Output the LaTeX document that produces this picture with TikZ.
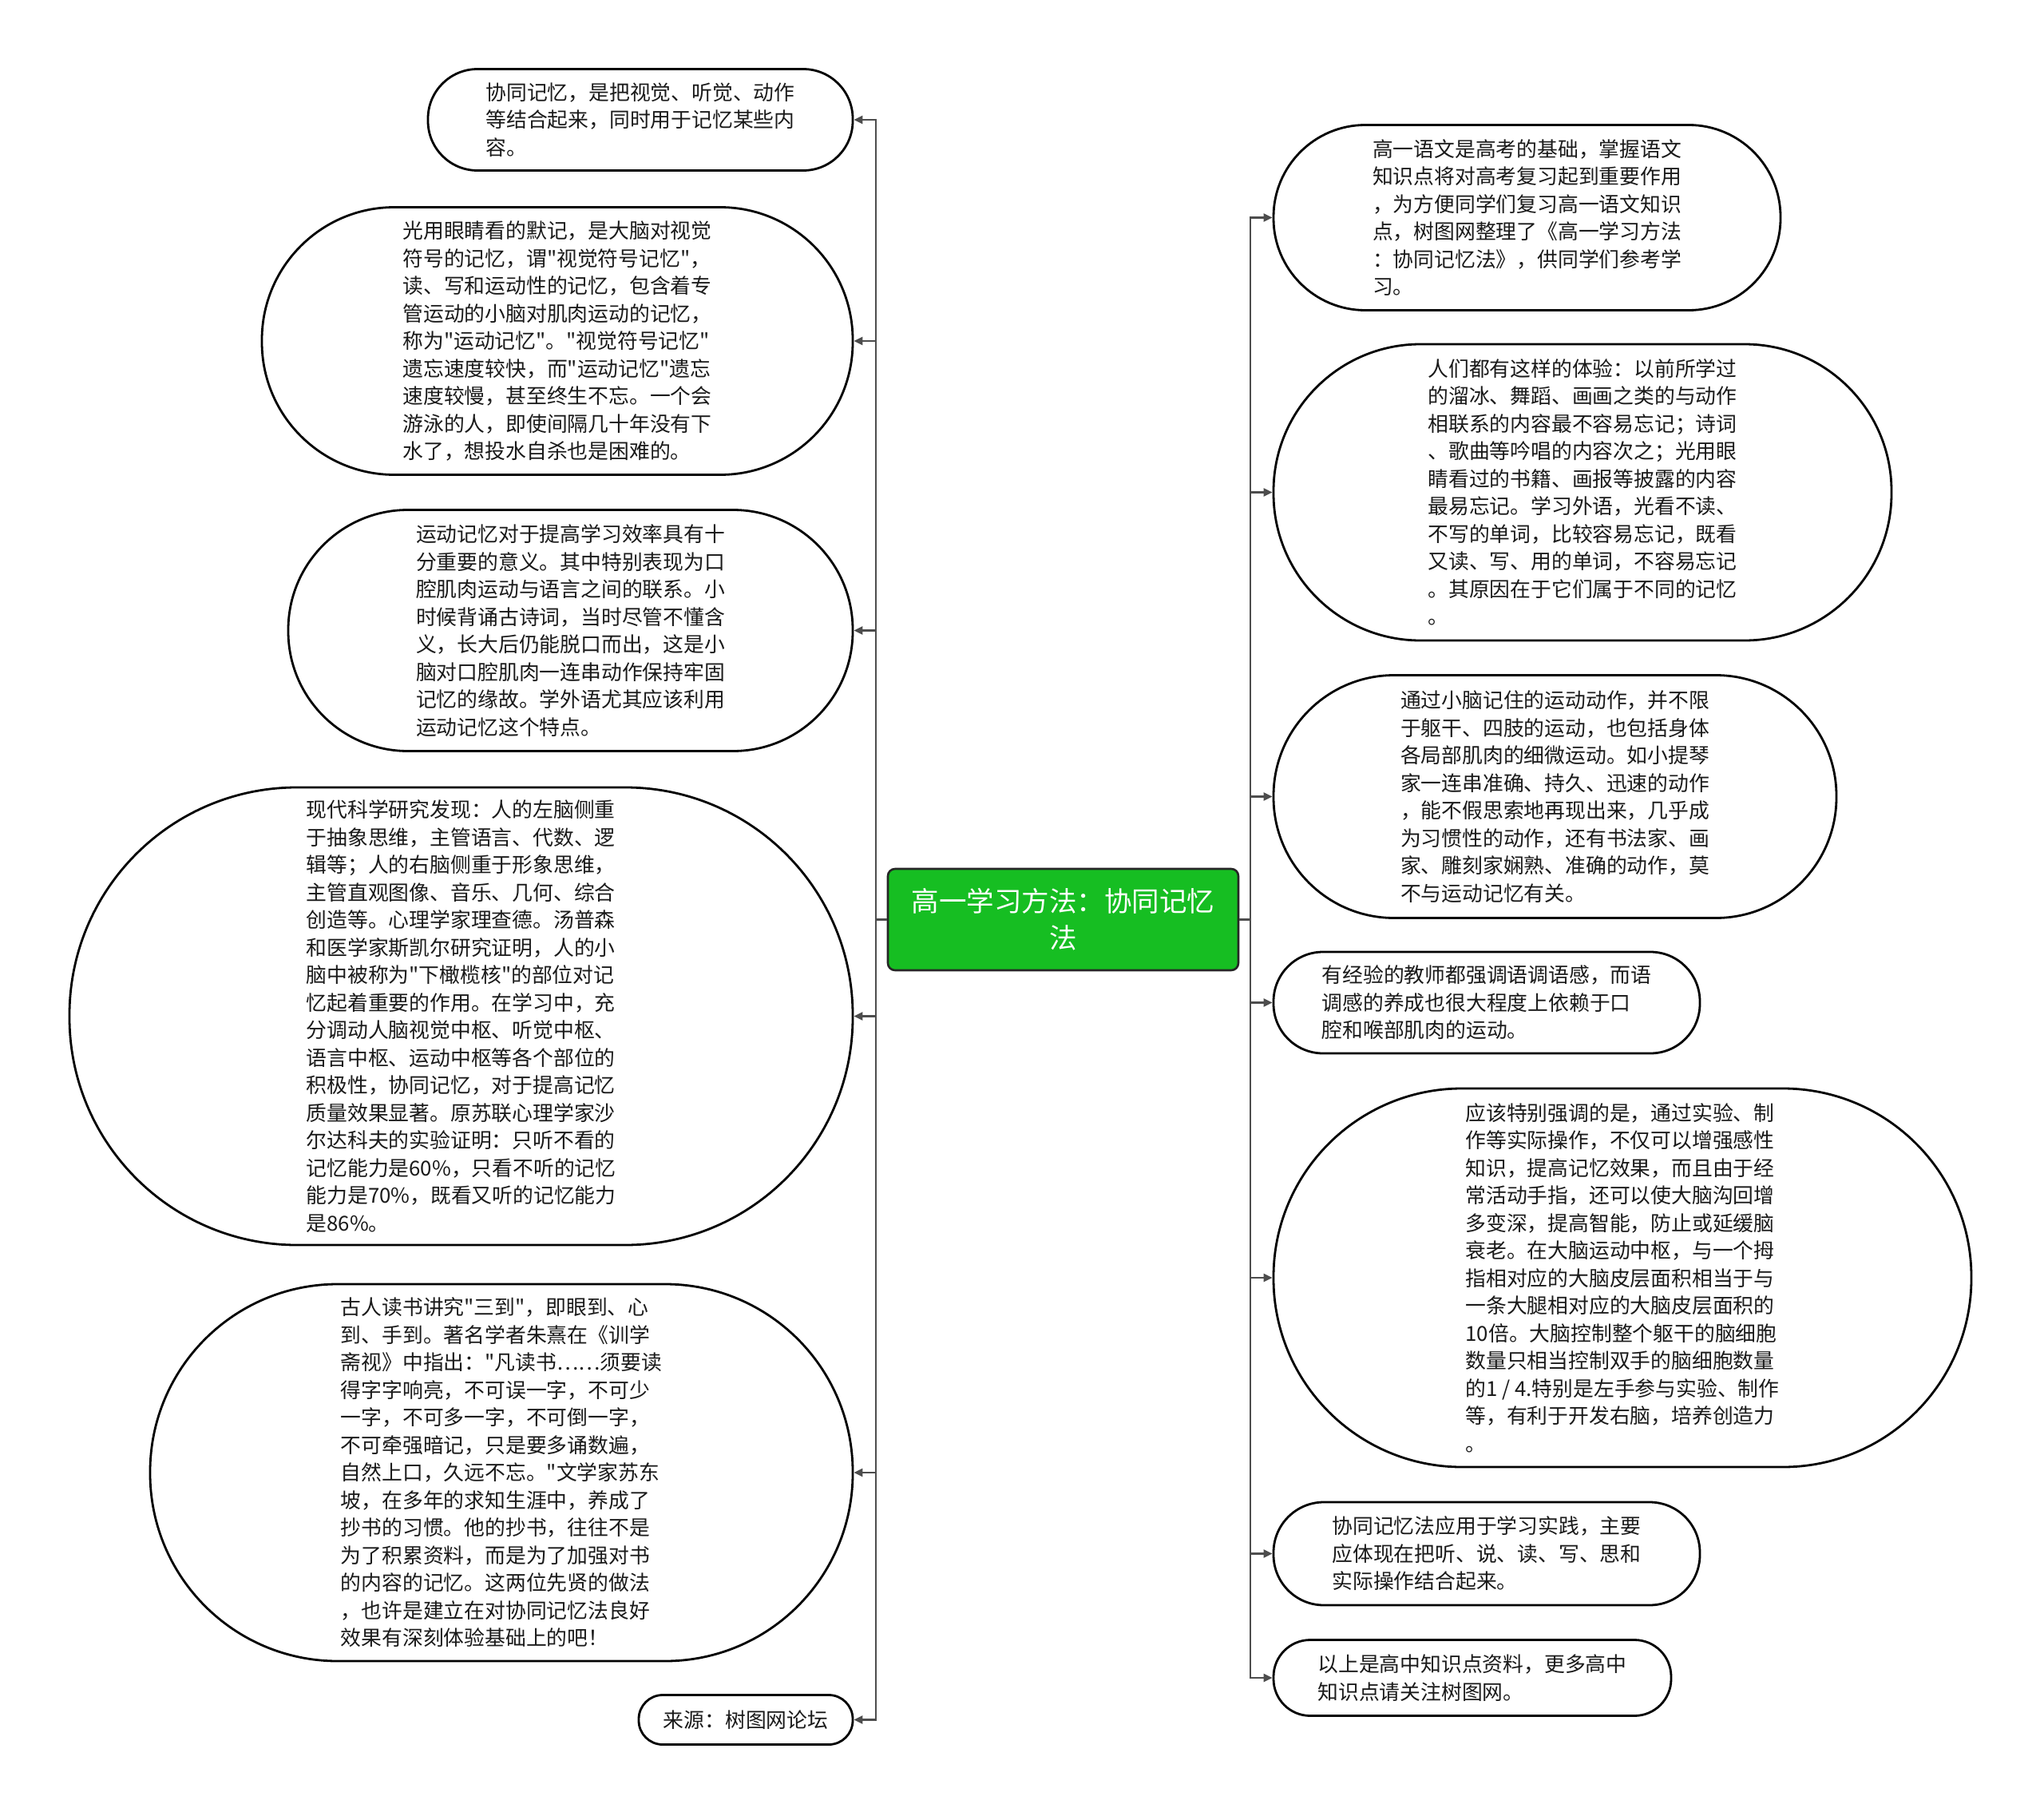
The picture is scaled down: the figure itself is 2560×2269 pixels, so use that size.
\documentclass[tikz,border=0pt]{standalone}
\usepackage{fontspec}
\setmainfont{Noto Sans CJK SC}[Ligatures=TeXOff]
\usetikzlibrary{arrows.meta}
\definecolor{txt}{HTML}{1A1A1A}
\definecolor{lnk}{HTML}{4D4D4D}
\definecolor{rootg}{HTML}{16BE22}
\begin{document}
\begin{tikzpicture}[x=1pt,y=-1pt,
  leaf/.style={draw=black, line width=2.8pt, fill=white, text=txt, align=left, inner sep=0pt,
    font=\fontsize{25.8pt}{34.5pt}\selectfont},
  root/.style={draw=black!85, line width=2.6pt, fill=rootg, text=white, align=center,
    rounded corners=9pt, inner sep=0pt, minimum width=439pt, minimum height=127pt,
    font=\fontsize{34.5pt}{46pt}\selectfont},
  link/.style={draw=lnk, line width=2.4pt},
  conn/.style={draw=lnk, line width=2.4pt, -{Triangle[length=11pt,width=10pt]}},
]
\fill[white] (0,0) rectangle (2560,2269);
\useasboundingbox (0,0) rectangle (2560,2269);

% root
\node[root] (C) at (1331.5,1151.5) {高一学习方法：协同记忆\\法};

% left children
\node[leaf, minimum width=532pt, minimum height=127pt, rounded corners=62pt] (L1) at (802,150)
 {协同记忆，是把视觉、听觉、动作\\等结合起来，同时用于记忆某些内\\容。};
\node[leaf, minimum width=740pt, minimum height=335pt, rounded corners=166pt] (L2) at (698,427)
 {光用眼睛看的默记，是大脑对视觉\\符号的记忆，谓"视觉符号记忆"，\\读、写和运动性的记忆，包含着专\\管运动的小脑对肌肉运动的记忆，\\称为"运动记忆"。"视觉符号记忆"\\遗忘速度较快，而"运动记忆"遗忘\\速度较慢，甚至终生不忘。一个会\\游泳的人，即使间隔几十年没有下\\水了，想投水自杀也是困难的。};
\node[leaf, minimum width=707pt, minimum height=302pt, rounded corners=150pt] (L3) at (714.5,789.5)
 {运动记忆对于提高学习效率具有十\\分重要的意义。其中特别表现为口\\腔肌肉运动与语言之间的联系。小\\时候背诵古诗词，当时尽管不懂含\\义，长大后仍能脱口而出，这是小\\脑对口腔肌肉一连串动作保持牢固\\记忆的缘故。学外语尤其应该利用\\运动记忆这个特点。};
\node[leaf, minimum width=981pt, minimum height=573pt, rounded corners=285pt] (L4) at (577.5,1272.5)
 {现代科学研究发现：人的左脑侧重\\于抽象思维，主管语言、代数、逻\\辑等；人的右脑侧重于形象思维，\\主管直观图像、音乐、几何、综合\\创造等。心理学家理查德。汤普森\\和医学家斯凯尔研究证明，人的小\\脑中被称为"下橄榄核"的部位对记\\忆起着重要的作用。在学习中，充\\分调动人脑视觉中枢、听觉中枢、\\语言中枢、运动中枢等各个部位的\\积极性，协同记忆，对于提高记忆\\质量效果显著。原苏联心理学家沙\\尔达科夫的实验证明：只听不看的\\记忆能力是60\%，只看不听的记忆\\能力是70\%，既看又听的记忆能力\\是86\%。};
\node[leaf, minimum width=880pt, minimum height=472pt, rounded corners=235pt] (L5) at (628,1844)
 {古人读书讲究"三到"，即眼到、心\\到、手到。著名学者朱熹在《训学\\斋视》中指出："凡读书……须要读\\得字字响亮，不可误一字，不可少\\一字，不可多一字，不可倒一字，\\不可牵强暗记，只是要多诵数遍，\\自然上口，久远不忘。"文学家苏东\\坡，在多年的求知生涯中，养成了\\抄书的习惯。他的抄书，往往不是\\为了积累资料，而是为了加强对书\\的内容的记忆。这两位先贤的做法\\，也许是建立在对协同记忆法良好\\效果有深刻体验基础上的吧！};
\node[leaf, minimum width=268pt, minimum height=62pt, rounded corners=30pt] (L6) at (934,2153.5)
 {来源：树图网论坛};

% right children
\node[leaf, minimum width=635pt, minimum height=232pt, rounded corners=115pt] (R1) at (1912.5,272.5)
 {高一语文是高考的基础，掌握语文\\知识点将对高考复习起到重要作用\\，为方便同学们复习高一语文知识\\点，树图网整理了《高一学习方法\\：协同记忆法》，供同学们参考学\\习。};
\node[leaf, minimum width=774pt, minimum height=371pt, rounded corners=184pt] (R2) at (1982,616.5)
 {人们都有这样的体验：以前所学过\\的溜冰、舞蹈、画画之类的与动作\\相联系的内容最不容易忘记；诗词\\、歌曲等吟唱的内容次之；光用眼\\睛看过的书籍、画报等披露的内容\\最易忘记。学习外语，光看不读、\\不写的单词，比较容易忘记，既看\\又读、写、用的单词，不容易忘记\\。其原因在于它们属于不同的记忆\\。};
\node[leaf, minimum width=705pt, minimum height=304pt, rounded corners=151pt] (R3) at (1947.5,997.5)
 {通过小脑记住的运动动作，并不限\\于躯干、四肢的运动，也包括身体\\各局部肌肉的细微运动。如小提琴\\家一连串准确、持久、迅速的动作\\，能不假思索地再现出来，几乎成\\为习惯性的动作，还有书法家、画\\家、雕刻家娴熟、准确的动作，莫\\不与运动记忆有关。};
\node[leaf, minimum width=534pt, minimum height=127pt, rounded corners=62pt] (R4) at (1862,1255.5)
 {有经验的教师都强调语调语感，而语\\调感的养成也很大程度上依赖于口\\腔和喉部肌肉的运动。};
\node[leaf, minimum width=874pt, minimum height=474pt, rounded corners=236pt] (R5) at (2032,1600)
 {应该特别强调的是，通过实验、制\\作等实际操作，不仅可以增强感性\\知识，提高记忆效果，而且由于经\\常活动手指，还可以使大脑沟回增\\多变深，提高智能，防止或延缓脑\\衰老。在大脑运动中枢，与一个拇\\指相对应的大脑皮层面积相当于与\\一条大腿相对应的大脑皮层面积的\\10倍。大脑控制整个躯干的脑细胞\\数量只相当控制双手的脑细胞数量\\的1 / 4.特别是左手参与实验、制作\\等，有利于开发右脑，培养创造力\\。};
\node[leaf, minimum width=534pt, minimum height=129pt, rounded corners=63pt] (R6) at (1862,1945.5)
 {协同记忆法应用于学习实践，主要\\应体现在把听、说、读、写、思和\\实际操作结合起来。};
\node[leaf, minimum width=498pt, minimum height=95pt, rounded corners=46pt] (R7) at (1844,2101)
 {以上是高中知识点资料，更多高中\\知识点请关注树图网。};

% connectors
\coordinate (lj) at (1097,1151.5);
\coordinate (rj) at (1566,1151.5);
\draw[link] (C.west) -- (lj);
\draw[link] (C.east) -- (rj);
\foreach \n in {L1,L2,L3,L4,L5,L6} \draw[conn] (lj) |- (\n.east);
\foreach \n in {R1,R2,R3,R4,R5,R6,R7} \draw[conn] (rj) |- (\n.west);
\end{tikzpicture}
\end{document}
